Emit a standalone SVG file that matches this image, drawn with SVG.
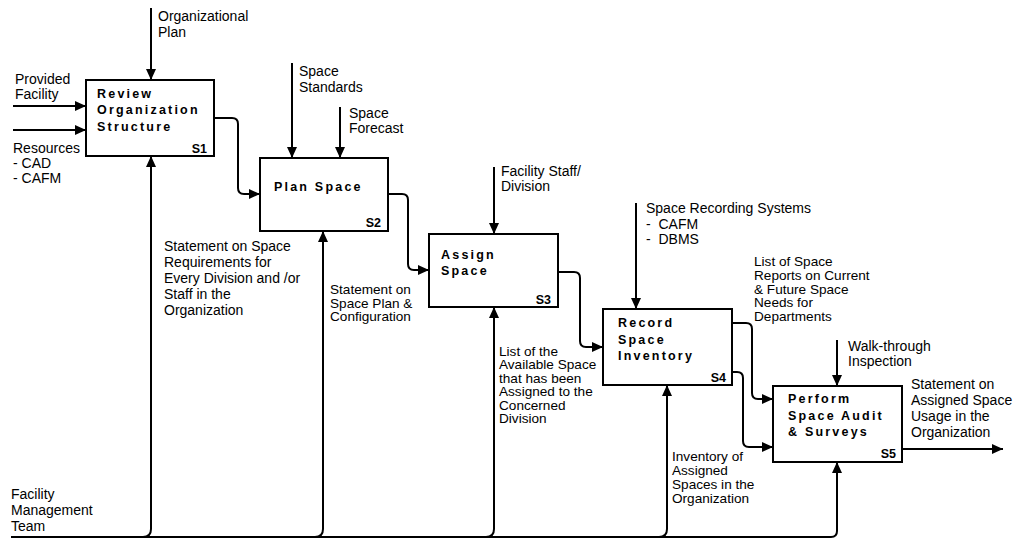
<svg xmlns="http://www.w3.org/2000/svg" width="1015" height="539" viewBox="0 0 1015 539">
<style>
.box{fill:#fff;stroke:#000;stroke-width:2}
.ttl{font-family:"Liberation Sans",Arial,sans-serif;font-size:12.5px;font-weight:bold;letter-spacing:2.2px;fill:#000}
.sid{font-family:"Liberation Sans",Arial,sans-serif;font-size:12.5px;font-weight:bold;fill:#000;text-anchor:end}
.lbl{font-family:"Liberation Sans",Arial,sans-serif;font-size:14px;fill:#000}
.tight{font-size:13.6px}
.c{fill:none;stroke:#000;stroke-width:2}
.a{marker-end:url(#arr)}
</style>
<defs>
<marker id="arr" markerUnits="userSpaceOnUse" markerWidth="11" markerHeight="10" refX="11" refY="5" orient="auto">
<path d="M0,0 L11,5 L0,10 z" fill="#000"/>
</marker>
</defs>
<g id="connectors">
<path class="c a" d="M151,8 V80"/>
<path class="c a" d="M13,106 H86"/>
<path class="c a" d="M13,130 H86"/>
<path class="c a" d="M214,118 H232 Q238,118 238,124 V188 Q238,194 244,194 H260"/>
<path class="c a" d="M292,63 V158"/>
<path class="c a" d="M340,107 V158"/>
<path class="c a" d="M388,194 H402 Q408,194 408,200 V264 Q408,270 414,270 H429"/>
<path class="c a" d="M494,167 V234"/>
<path class="c a" d="M558,272 H574 Q580,272 580,278 V341 Q580,347 586,347 H603"/>
<path class="c a" d="M636,203 V309"/>
<path class="c a" d="M732,323 H746 Q752,323 752,329 V393 Q752,399 758,399 H773"/>
<path class="c a" d="M732,372 H737 Q743,372 743,378 V441 Q743,447 749,447 H773"/>
<path class="c a" d="M837,340 V386"/>
<path class="c a" d="M902,449 H1003"/>
<path class="c a" d="M11,537 H831 Q837,537 837,531 V462"/>
<path class="c a" d="M143,537 Q151,537 151,529 V156"/>
<path class="c a" d="M315,537 Q323,537 323,529 V231"/>
<path class="c a" d="M486,537 Q494,537 494,529 V307"/>
<path class="c a" d="M659,537 Q667,537 667,529 V385"/>
</g>
<g id="S1">
<rect class="box" x="86" y="80" width="128" height="76"/>
<text class="ttl" x="97" y="98">Review</text>
<text class="ttl" x="97" y="114">Organization</text>
<text class="ttl" x="97" y="131">Structure</text>
<text class="sid" x="207" y="153">S1</text>
</g>
<g id="S2">
<rect class="box" x="260" y="158" width="128" height="73"/>
<text class="ttl" x="274" y="191">Plan Space</text>
<text class="sid" x="381" y="227">S2</text>
</g>
<g id="S3">
<rect class="box" x="429" y="234" width="129" height="73"/>
<text class="ttl" x="441" y="259">Assign</text>
<text class="ttl" x="441" y="275">Space</text>
<text class="sid" x="551" y="304">S3</text>
</g>
<g id="S4">
<rect class="box" x="603" y="309" width="129" height="76"/>
<text class="ttl" x="618" y="327">Record</text>
<text class="ttl" x="618" y="344">Space</text>
<text class="ttl" x="618" y="360">Inventory</text>
<text class="sid" x="726" y="382">S4</text>
</g>
<g id="S5">
<rect class="box" x="773" y="386" width="129" height="76"/>
<text class="ttl" x="788" y="403">Perform</text>
<text class="ttl" x="788" y="420">Space Audit</text>
<text class="ttl" x="788" y="436">&amp; Surveys</text>
<text class="sid" x="896" y="458">S5</text>
</g>
<g id="labels">
<text class="lbl" x="158" y="21">Organizational</text>
<text class="lbl" x="158" y="37">Plan</text>
<text class="lbl" x="15" y="84">Provided</text>
<text class="lbl" x="15" y="99">Facility</text>
<text class="lbl" x="13" y="153">Resources</text>
<text class="lbl" x="13" y="168">- CAD</text>
<text class="lbl" x="13" y="183">- CAFM</text>
<text class="lbl" x="299" y="76">Space</text>
<text class="lbl" x="299" y="92">Standards</text>
<text class="lbl" x="349" y="118">Space</text>
<text class="lbl" x="349" y="133">Forecast</text>
<text class="lbl" x="501" y="176">Facility Staff/</text>
<text class="lbl" x="501" y="191">Division</text>
<text class="lbl" x="646" y="213">Space Recording Systems</text>
<text class="lbl" x="646" y="229" xml:space="preserve">-  CAFM</text>
<text class="lbl" x="646" y="244" xml:space="preserve">-  DBMS</text>
<text class="lbl tight" x="754" y="266">List of Space</text>
<text class="lbl tight" x="754" y="279.75">Reports on Current</text>
<text class="lbl tight" x="754" y="293.5">&amp; Future Space</text>
<text class="lbl tight" x="754" y="307.25">Needs for</text>
<text class="lbl tight" x="754" y="321">Departments</text>
<text class="lbl" x="848" y="351">Walk-through</text>
<text class="lbl" x="848" y="366">Inspection</text>
<text class="lbl" x="911" y="389">Statement on</text>
<text class="lbl" x="911" y="405">Assigned Space</text>
<text class="lbl" x="911" y="421">Usage in the</text>
<text class="lbl" x="911" y="437">Organization</text>
<text class="lbl" x="164" y="251">Statement on Space</text>
<text class="lbl" x="164" y="267">Requirements for</text>
<text class="lbl" x="164" y="283">Every Division and /or</text>
<text class="lbl" x="164" y="299">Staff in the</text>
<text class="lbl" x="164" y="315">Organization</text>
<text class="lbl tight" x="330" y="294">Statement on</text>
<text class="lbl tight" x="330" y="307.5">Space Plan &amp;</text>
<text class="lbl tight" x="330" y="321">Configuration</text>
<text class="lbl tight" x="499" y="356">List of the</text>
<text class="lbl tight" x="499" y="369.4">Available Space</text>
<text class="lbl tight" x="499" y="382.8">that has been</text>
<text class="lbl tight" x="499" y="396.2">Assigned to the</text>
<text class="lbl tight" x="499" y="409.6">Concerned</text>
<text class="lbl tight" x="499" y="423">Division</text>
<text class="lbl tight" x="672" y="461">Inventory of</text>
<text class="lbl tight" x="672" y="475">Assigned</text>
<text class="lbl tight" x="672" y="489">Spaces in the</text>
<text class="lbl tight" x="672" y="503">Organization</text>
<text class="lbl" x="11" y="499">Facility</text>
<text class="lbl" x="11" y="515">Management</text>
<text class="lbl" x="11" y="531">Team</text>
</g>
</svg>
